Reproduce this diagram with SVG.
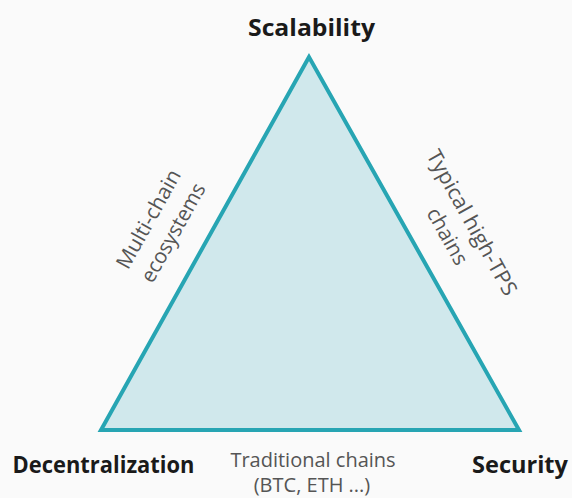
<svg xmlns="http://www.w3.org/2000/svg" width="572" height="498" viewBox="0 0 572 498">
<style>
.title{font-family:"Open Sans","Liberation Sans",sans-serif;font-weight:bold;font-size:24px;fill:#1a1a1a}
.lbl{font-family:"Open Sans","Liberation Sans",sans-serif;font-size:20px;fill:#555;text-anchor:middle}
.rot{font-size:21px}
</style>
<rect width="572" height="498" fill="#fafafa"/>
<g id="triangle">
<polygon points="309,57 101,430 519,430" fill="#d0e8ec" stroke="#27a5b3" stroke-width="4" stroke-linejoin="miter"/>
</g>
<g id="scalability"><text class="title" x="248" y="36" textLength="127" lengthAdjust="spacingAndGlyphs">Scalability</text></g>
<g id="decentralization"><text class="title" x="12.5" y="473" textLength="182" lengthAdjust="spacingAndGlyphs">Decentralization</text></g>
<g id="security"><text class="title" x="472" y="473" textLength="96" lengthAdjust="spacingAndGlyphs">Security</text></g>
<g id="multichain" transform="translate(161,226) rotate(-60.85)">
<text class="lbl rot" x="0" y="-7" textLength="110" lengthAdjust="spacingAndGlyphs">Multi-chain</text>
<text class="lbl rot" x="0" y="21" textLength="110" lengthAdjust="spacingAndGlyphs">ecosystems</text>
</g>
<g id="hightps" transform="translate(459.5,229.5) rotate(60.85)">
<text class="lbl rot" x="0" y="-7" textLength="163" lengthAdjust="spacingAndGlyphs">Typical high-TPS</text>
<text class="lbl rot" x="0" y="21" textLength="62" lengthAdjust="spacingAndGlyphs">chains</text>
</g>
<g id="traditional">
<text class="lbl" x="313" y="467">Traditional chains</text>
<text class="lbl" x="312" y="492">(BTC, ETH ...)</text>
</g>
</svg>
